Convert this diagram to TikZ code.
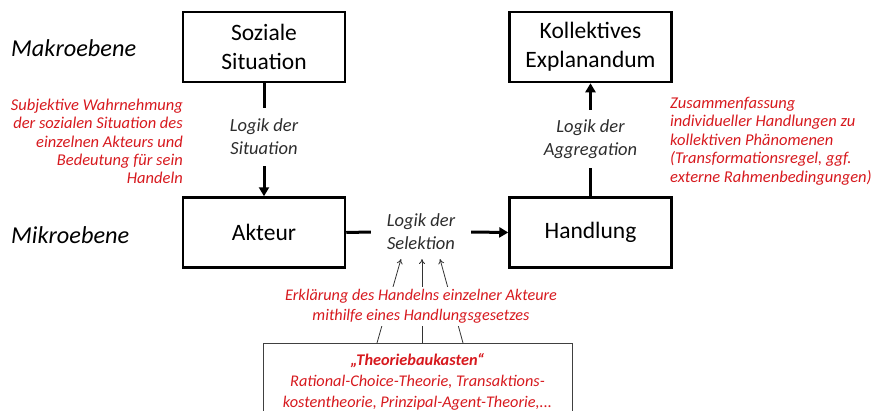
\documentclass[tikz,border=0pt]{standalone}
\usepackage{fontspec}
\setmainfont{Carlito}
\usepackage{tikz}
\usetikzlibrary{arrows.meta,positioning}

\definecolor{erkl}{RGB}{215,25,30}
\definecolor{logik}{RGB}{45,45,45}

\tikzset{
  ebene/.style={font=\fontsize{24.3}{28}\selectfont\itshape, anchor=west, inner sep=0pt},
  kasten/.style={draw, line width=2.5pt, minimum width=162pt, minimum height=70pt,
    align=center, font=\fontsize{23.5}{29}\selectfont},
  logikbox/.style={fill=white, align=center, minimum width=100pt, minimum height=58pt,
    inner sep=0pt, text=logik, font=\fontsize{18.5}{23}\selectfont\itshape},
  erklaerung/.style={text=erkl, inner sep=0pt, font=\fontsize{16.5}{18.4}\selectfont\itshape},
  pfeil/.style={line width=3pt, -{Triangle[length=9pt,width=10pt]}},
  strich/.style={line width=3pt},
  duenn/.style={line width=0.8pt, black!80, -{To[length=5pt,width=6pt]}}
}

\begin{document}
\begin{tikzpicture}[x=1pt,y=-1pt]
    \useasboundingbox (0,0) rectangle (873,410);

    \node[ebene] (makro) at (11,48) {Makroebene};
    \node[ebene] (mikro) at (11,235) {Mikroebene};

    \node[kasten] (sozsit) at (264,47) {Soziale\\Situation};
    \node[kasten] (explan) at (590.5,47) {Kollektives\\Explanandum};
    \node[kasten] (akteur) at (264,232.5) {Akteur};
    \node[kasten] (handl) at (590.5,232.5) {Handlung};

    \node[logikbox] (lsit) at (264,137) {Logik der\\Situation};
    \node[logikbox] (lagg) at (590.5,139) {Logik der\\Aggregation};
    \node[logikbox, minimum height=50pt] (lsel) at (421,232) {Logik der\\Selektion};

    \draw[strich] (sozsit.south) -- (lsit.north);
    \draw[pfeil] (lsit.south) -- (akteur.north);
    \draw[strich] (handl.north) -- (lagg.south);
    \draw[pfeil] (lagg.north) -- (explan.south);
    \draw[strich] (akteur.east) -- (lsel.west);
    \draw[pfeil] (lsel.east) -- (handl.west);

    \node[erklaerung, align=right, anchor=east] (wahrn) at (183,141.5)
      {Subjektive Wahrnehmung\\der sozialen Situation des\\einzelnen Akteurs und\\Bedeutung für sein\\Handeln};
    \node[erklaerung, align=left, anchor=west] (zusamm) at (670,141)
      {Zusammenfassung\\individueller Handlungen zu\\kollektiven Phänomenen\\(Transformationsregel, ggf.\\externe Rahmenbedingungen)};

    % Theoriebaukasten unten
    \node[draw=black!75, line width=0.9pt, fill=white, anchor=north, minimum width=309pt,
      minimum height=76pt, align=center, text=erkl, font=\fontsize{16.3}{21}\selectfont\itshape]
      (tbk) at (417.5,343)
      {\textbf{„Theoriebaukasten“}\\Rational-Choice-Theorie, Transaktions-\\kostentheorie, Prinzipal-Agent-Theorie,...};

    \foreach \a/\b/\n in {377/401/1, 422/422/2, 463/440/3} {
      \coordinate (fuss\n) at (\a,343);
      \coordinate (spitze\n) at (\b,259);
      \draw[duenn] (fuss\n) -- (spitze\n);
    }

    \node[erklaerung, fill=white, align=center, font=\fontsize{16.2}{19.8}\selectfont\itshape,
      inner sep=3pt] (gesetz) at (421,306.5)
      {Erklärung des Handelns einzelner Akteure\\mithilfe eines Handlungsgesetzes};
\end{tikzpicture}
\end{document}
